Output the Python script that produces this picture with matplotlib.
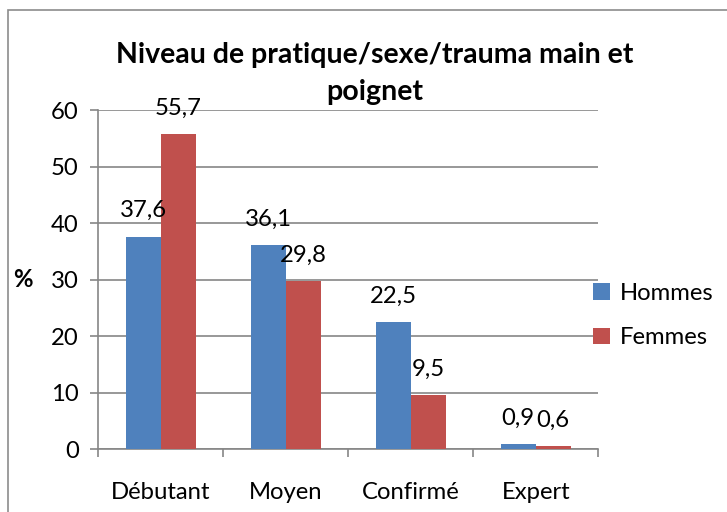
import numpy as np
import matplotlib
matplotlib.use("Agg")
import matplotlib.pyplot as plt
from matplotlib.patches import Rectangle

plt.rcParams['font.family'] = ['Lato', 'DejaVu Sans']

# data
categories = ["Débutant", "Moyen", "Confirmé", "Expert"]
hommes = [37.6, 36.1, 22.5, 0.9]
femmes = [55.7, 29.8, 9.5, 0.6]
labels_h = ["37,6", "36,1", "22,5", "0,9"]
labels_f = ["55,7", "29,8", "9,5", "0,6"]
yticks = [0, 10, 20, 30, 40, 50, 60]
title_lines = ["Niveau de pratique/sexe/trauma main et", "poignet"]

blue = "#4F81BD"
red = "#C0504D"
grey = "#868686"

fig = plt.figure(figsize=(7.27, 5.12), dpi=100)
ax = fig.add_axes([0.135, 0.123, 0.688, 0.662])

# chart border
fig.patches.append(Rectangle((8/727, -0.1), 1.0, 1 - 10/512 + 0.1, transform=fig.transFigure,
                             fill=False, edgecolor="#8c8c8c", linewidth=1.2))

x = np.arange(len(categories))
w = 0.28
b1 = ax.bar(x - w/2, hommes, w, color=blue, label="Hommes", zorder=3)
b2 = ax.bar(x + w/2, femmes, w, color=red, label="Femmes", zorder=3)

fs = 17.2
for rect, lab in zip(b1, labels_h):
    ax.annotate(lab, (rect.get_x() + rect.get_width()/2, rect.get_height()),
                xytext=(0, 11), textcoords="offset points", ha="center", va="bottom", fontsize=fs)
for rect, lab in zip(b2, labels_f):
    ax.annotate(lab, (rect.get_x() + rect.get_width()/2, rect.get_height()),
                xytext=(0, 11), textcoords="offset points", ha="center", va="bottom", fontsize=fs)

ax.set_ylim(0, 60)
ax.set_xlim(-0.5, len(categories) - 0.5)
ax.set_yticks(yticks)
ax.set_yticklabels([str(v) for v in yticks], fontsize=fs)
ax.set_xticks(x)
ax.set_xticklabels(categories, fontsize=fs)
ax.tick_params(axis='x', length=0, pad=24)
ax.set_xticks(np.arange(-0.5, len(categories), 1.0), minor=True)
ax.tick_params(axis='x', which='minor', length=6, color=grey, width=1.2)
ax.tick_params(axis='y', length=6, color=grey, width=1.2, pad=8)

ax.yaxis.grid(True, color=grey, linewidth=1.2, zorder=0)
ax.set_axisbelow(True)
for s in ["top", "right"]:
    ax.spines[s].set_visible(False)
for s in ["left", "bottom"]:
    ax.spines[s].set_color(grey)
    ax.spines[s].set_linewidth(1.2)

ax.set_ylabel("%", fontsize=fs, fontweight="bold", rotation=0, labelpad=20, va="center")

# title, two lines as in the original
fig.text(0.516, 1 - 55/512, title_lines[0], ha="center", va="center", fontsize=20.5, fontweight="bold")
fig.text(0.516, 1 - 92/512, title_lines[1], ha="center", va="center", fontsize=20.5, fontweight="bold")

ax.legend(loc="center left", bbox_to_anchor=(0.99, 0.394), frameon=False, fontsize=fs,
          handlelength=0.7, handleheight=0.7, handletextpad=0.4, labelspacing=1.0,
          borderaxespad=0, borderpad=0)

fig.savefig("out.png", dpi=100)
